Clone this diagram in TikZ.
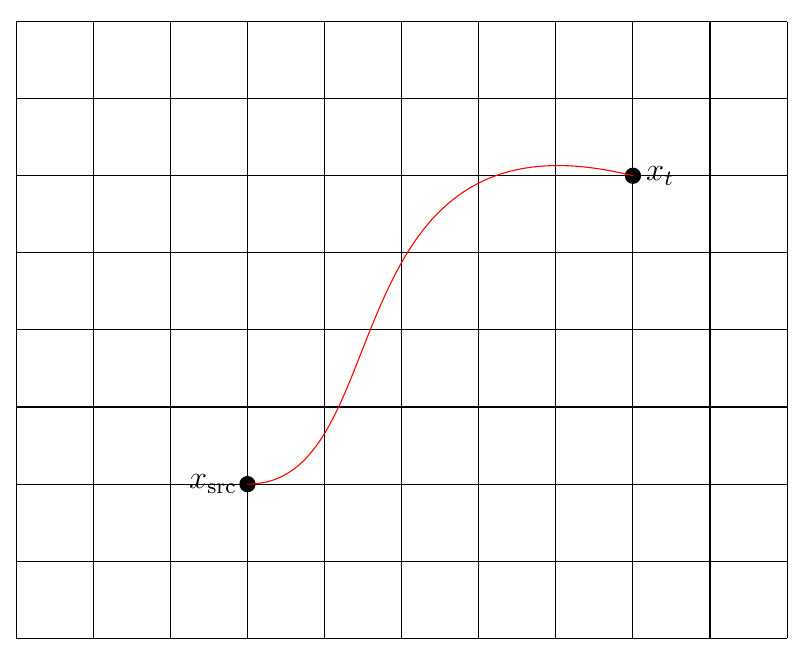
\documentclass[tikz,border=0pt]{standalone}
\begin{document}
\begin{tikzpicture}[x=1cm,y=1cm,
  pt/.style={circle,fill=black,inner sep=0pt,minimum size=6pt},
  lab/.style={inner sep=0.5pt,font=\large},
  path/.style={red}]
\useasboundingbox (-0.21,-0.22) rectangle (10.31,8.28);
\draw (0,0) grid (10,8);
\node[pt] (src) at (3,2) {};
\node[pt] (t) at (8,6) {};
\node[lab,anchor=east] (srclab) at (src.west) {$x_{\mathrm{src}}$};
\node[lab,anchor=west] (tlab) at ([xshift=1pt]t.east) {$x_t$};
\draw[path] (src.center) .. controls (5,2) and (4,7) .. (t.center);
\end{tikzpicture}
\end{document}
